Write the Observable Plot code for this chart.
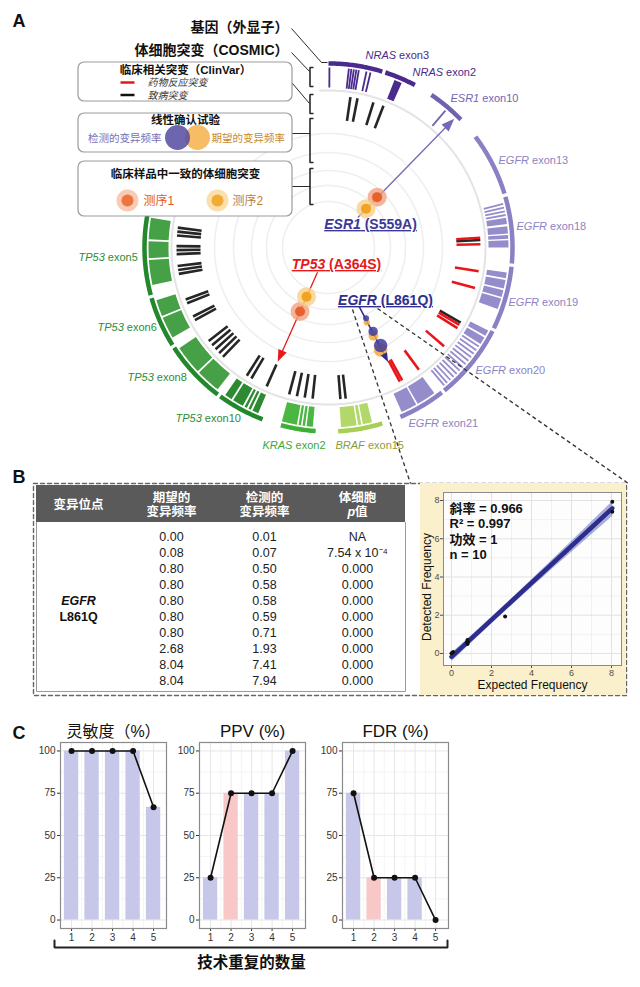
<!DOCTYPE html>
<html lang="zh">
<head>
<meta charset="utf-8">
<script src="https://cdn.jsdelivr.net/npm/d3@7"></script>
<script src="https://cdn.jsdelivr.net/npm/@observablehq/plot@0.6"></script>
<style>
html,body{margin:0;padding:0;background:#fff;}
#page{position:relative;width:640px;height:987px;overflow:hidden;font-family:'Liberation Sans','Noto Sans CJK SC',Arial,sans-serif;}
</style>
</head>
<body>
<div id="page"></div>
<script>
// ======================= DATA =======================
// Panel A – circos: exons (angle in degrees, clockwise from top)
const exonGene  = ["NRAS","NRAS","ESR1","EGFR","EGFR","EGFR","EGFR","EGFR","BRAF","KRAS","TP53","TP53","TP53","TP53"];
const exonName  = ["exon3","exon2","exon10","exon13","exon18","exon19","exon20","exon21","exon15","exon2","exon10","exon8","exon6","exon5"];
const exonStart = [0,18,34,53,74,96,117,142,163,184,201,217,238,255];
const exonEnd   = [17,28,46,73,95,116,141,157,177,195,216,237,254,281];

// COSMIC somatic mutations: dense blocks [gene, start, end] and single lines [gene, angle]
const cosmicBlocks = [
  ["NRAS",21.5,24],
  ["EGFR",80.5,82.5],["EGFR",83.2,85.5],["EGFR",86,87.2],["EGFR",87.7,90],
  ["EGFR",98,99.8],["EGFR",100.4,103.2],["EGFR",103.7,106],["EGFR",106.5,110],
  ["EGFR",117.5,119.4],["EGFR",120,122.4],
  ["EGFR",144,150.3],["EGFR",150.8,156],
  ["BRAF",166,169],["BRAF",169.5,170.5],["BRAF",171,176],
  ["KRAS",185,187],["KRAS",187.5,188.3],["KRAS",188.8,189.6],["KRAS",190.1,195],
  ["TP53",203,205],["TP53",205.6,206.4],["TP53",207,207.8],["TP53",208.4,212],["TP53",212.6,215],
  ["TP53",218,226],["TP53",226.6,236],
  ["TP53",240,247],["TP53",247.6,253],
  ["TP53",258,266],["TP53",266.6,272],["TP53",272.6,279.5]
];
const cosmicLines = [
  ["NRAS",0.3],["NRAS",6.5],["NRAS",7.3],["NRAS",8.1],["NRAS",8.9],["NRAS",9.7],["NRAS",12.2],["NRAS",13.5],
  ["ESR1",40.5],
  ["EGFR",76],["EGFR",77.2],["EGFR",78.4],["EGFR",79.6],
  ["EGFR",123.4],["EGFR",124.8],["EGFR",126.2],["EGFR",127.6],["EGFR",129],["EGFR",130.4],["EGFR",131.8],
  ["EGFR",133.2],["EGFR",134.6],["EGFR",136],["EGFR",137.4],["EGFR",138.8],["EGFR",140]
];

// ClinVar clinically relevant mutations (angles)
const clinvarPathogenic = [8.3,11,17.2,21.2, 87.2, 119.6, 173.5,175.5, 186,189,192,195,
  204,210.5,212.5, 224,226,228,230,232, 241.5,243,248.5,250,
  260,261.5,263,267.5,269,270.5,274.5,276,277.5];
const clinvarDrugResponse = [86.3, 88.8, 99, 105.5, 120.6, 122, 130.5, 143.5, 151, 152];

// Concordant somatic mutations in clinical samples
const concordantMutations = ["ESR1 (S559A)","TP53 (A364S)"];
const concordantAngle = [44, 204];
const sequencingRuns = ["测序1","测序2"];

// Linearity assay
const linearityMutation = "EGFR (L861Q)";
const linearityAngle = 152;
const linearityExpected = [0.08, 0.80, 8.04];
const linearityDetected = [0.07, 0.58, 7.41];

// Panel B – table and regression
const variantSite = ["EGFR","L861Q"];
const tableExpected = [0.00,0.08,0.80,0.80,0.80,0.80,0.80,2.68,8.04,8.04];
const tableDetected = [0.01,0.07,0.50,0.58,0.58,0.59,0.71,1.93,7.41,7.94];
const tablePValue   = ["NA","7.54 x 10⁻⁴","0.000","0.000","0.000","0.000","0.000","0.000","0.000","0.000"];
const tableHeaders  = ["变异位点","期望的\n变异频率","检测的\n变异频率","体细胞\np值"];
const regressionStats = ["斜率 = 0.966","R² = 0.997","功效 = 1","n = 10"];

// Panel C
const replicates  = [1,2,3,4,5];
const sensitivity = [100,100,100,100,66.7];
const ppv         = [25,75,75,75,100];
const fdr         = [75,25,25,25,0];
const panelTitles = ["灵敏度（%）","PPV (%)","FDR (%)"];
const highlightedReplicate = [null, 2, 2];

// ======================= HELPERS =======================
const FONT = "'Liberation Sans','Noto Sans CJK SC',Arial,sans-serif";
const NS = "http://www.w3.org/2000/svg";
const page = document.getElementById("page");
function place(el, left, top){ el.style.position="absolute"; el.style.left=left+"px"; el.style.top=top+"px"; page.appendChild(el); return el; }
function polish(svg){
  svg.querySelectorAll("text").forEach(t=>{
    const spans = t.querySelectorAll("tspan");
    if (spans.length){
      spans.forEach(s=>{
        if (s.textContent==="p值"){
          s.textContent="";
          const i=document.createElementNS(NS,"tspan"); i.setAttribute("font-style","italic"); i.textContent="p";
          s.appendChild(i); s.appendChild(document.createTextNode("值"));
        }
      });
      return;
    }
    const txt = t.textContent;
    const m = txt.match(/^(NRAS|ESR1|EGFR|BRAF|KRAS|TP53)( .+)$/);
    if (m){
      t.textContent="";
      const i=document.createElementNS(NS,"tspan"); i.setAttribute("font-style","italic"); i.textContent=m[1];
      t.appendChild(i); t.appendChild(document.createTextNode(m[2]));
    }
    if (/\([A-Z]\d+[A-Z]\)$/.test(txt)) t.style.textDecoration="underline";
  });
}

const CX=328, CY=247;
const toRad = d=>d*Math.PI/180;
const px=(a,r)=>CX+r*Math.sin(toRad(a));
const py=(a,r)=>CY-r*Math.cos(toRad(a));
function arcPts(a0,a1,r,step=0.5){
  const n=Math.max(2,Math.ceil(Math.abs(a1-a0)/step)+1);
  return d3.range(n).map(i=>{const a=a0+(a1-a0)*i/(n-1); return {x:px(a,r),y:py(a,r)};});
}
function sectorPts(a0,a1,r0,r1){ return [...arcPts(a0,a1,r1,0.25),...arcPts(a1,a0,r0,0.25)]; }
function headPts(a,rTip,len,w){
  const bx=px(a,rTip-len), by=py(a,rTip-len), ux=Math.cos(toRad(a)), uy=Math.sin(toRad(a));
  return [{x:px(a,rTip),y:py(a,rTip)},{x:bx+ux*w/2,y:by+uy*w/2},{x:bx-ux*w/2,y:by-uy*w/2}];
}

const ringColor  ={NRAS:"#4b2a8d",ESR1:"#6d63af",EGFR:"#8a80c4",BRAF:"#a7cf52",KRAS:"#3fae37",TP53:"#23882c"};
const cosmicColor={NRAS:"#4b2a8d",ESR1:"#6d63af",EGFR:"#958dcb",BRAF:"#b2d86a",KRAS:"#4ab743",TP53:"#46a046"};
const labelColor ={NRAS:"#4b2a8d",ESR1:"#6f66b2",EGFR:"#8c84c3",BRAF:"#8a9c3a",KRAS:"#3aa932",TP53:"#2d8c35"};
const labelPos = [[365,55],[412,72],[450,98],[498,160],[516,226],[508,302],[475,370],[408,423],[335,445],[262,445],[175,418],[127,377],[97,327],[78,257]];

const R_RING=184, COS0=160, COS1=180, CLV0=128, CLV1=152, SEP=157;

// ======================= BASE LAYER (panel A + frames) =======================
const marks = [];
// faint concentric tracks
marks.push(Plot.line([46,62,77,95,114].flatMap((r,k)=>arcPts(0,360,r,2).map(p=>({...p,k}))),
  {x:"x",y:"y",z:"k",stroke:"#efefef",strokeWidth:1.6}));
marks.push(Plot.line(arcPts(-3,290,SEP,1),{x:"x",y:"y",stroke:"#e4e4e4",strokeWidth:2}));
// gene / exon ring
marks.push(Plot.line(exonGene.flatMap((g,i)=>arcPts(exonStart[i],exonEnd[i],R_RING).map(p=>({...p,k:i,c:ringColor[g]}))),
  {x:"x",y:"y",z:"k",stroke:"c",strokeWidth:4.5,strokeLinecap:"butt",strokeLinejoin:"round"}));
// COSMIC track
marks.push(Plot.line(cosmicBlocks.flatMap(([g,a0,a1],k)=>sectorPts(a0,a1,COS0,COS1).map(p=>({...p,k,c:(g==="TP53"&&a1<=216)?"#2c8a32":cosmicColor[g]}))),
  {x:"x",y:"y",z:"k",fill:"c",stroke:"none"}));
marks.push(Plot.link(cosmicLines,{x1:d=>px(d[1],COS0),y1:d=>py(d[1],COS0),x2:d=>px(d[1],COS1),y2:d=>py(d[1],COS1),
  stroke:d=>cosmicColor[d[0]],strokeWidth:1.8,strokeLinecap:"butt"}));
// ClinVar track
const clinRows=[...clinvarPathogenic.map(a=>({a,c:"#262626"})),...clinvarDrugResponse.map(a=>({a,c:"#e8161b"}))];
marks.push(Plot.link(clinRows,{x1:d=>px(d.a,CLV0),y1:d=>py(d.a,CLV0),x2:d=>px(d.a,CLV1),y2:d=>py(d.a,CLV1),
  stroke:"c",strokeWidth:2.6,strokeLinecap:"butt"}));
// linearity assay points
const linR=[80,95,111];
const linRows=linearityExpected.map((e,i)=>({e,d:linearityDetected[i],rr:linR[i]}));
// arrows
const arrowDefs=[
  {a:concordantAngle[0]+0.3,r0:42,r1:180,c:"#7469b6",len:13,w:10,sw:1.3},
  {a:concordantAngle[1],r0:27,r1:125,c:"#e41a1c",len:12,w:9,sw:1.3},
  {a:linearityAngle+0.5,r0:66,r1:129,c:"#2c2b92",len:9,w:7,sw:1.5}
];
marks.push(Plot.link(arrowDefs,{x1:d=>px(d.a,d.r0),y1:d=>py(d.a,d.r0),x2:d=>px(d.a,d.r1-d.len+1),y2:d=>py(d.a,d.r1-d.len+1),stroke:"c",strokeWidth:d=>d.sw}));
marks.push(Plot.dot(linRows,{x:d=>px(linearityAngle+1,d.rr+4),y:d=>py(linearityAngle+1,d.rr+4),r:"e",fill:"#f4a93a",fillOpacity:0.85}));
marks.push(Plot.dot(linRows,{x:d=>px(linearityAngle,d.rr),y:d=>py(linearityAngle,d.rr),r:"d",fill:"#3f3c9c",fillOpacity:0.85}));
marks.push(Plot.line(arrowDefs.flatMap((d,k)=>headPts(d.a,d.r1,d.len,d.w).map(p=>({...p,k,c:d.c}))),{x:"x",y:"y",z:"k",fill:"c",stroke:"none"}));
// concordant points
const runR={"测序1":70,"测序2":54};
const concRows=concordantAngle.flatMap(a=>sequencingRuns.map(run=>({a,run})));
marks.push(Plot.dot(concRows,{x:d=>px(d.a,runR[d.run]),y:d=>py(d.a,runR[d.run]),r:9.5,fill:d=>d.run==="测序1"?"#f3a183":"#f8cf84",fillOpacity:0.8}));
marks.push(Plot.dot(concRows,{x:d=>px(d.a,runR[d.run]),y:d=>py(d.a,runR[d.run]),r:5,fill:d=>d.run==="测序1"?"#e8602c":"#f0a324"}));
// exon labels
marks.push(Plot.text(exonGene.map((g,i)=>({t:g+" "+exonName[i],x:labelPos[i][0],y:labelPos[i][1],c:labelColor[g]})),
  {x:"x",y:"y",text:"t",fill:"c",textAnchor:"start",fontSize:11}));
// mutation labels
const mutLabels=[
  {t:concordantMutations[0],x:370,y:224,c:"#3b3897"},
  {t:concordantMutations[1],x:336,y:264,c:"#e3191c"},
  {t:linearityMutation,x:385,y:300,c:"#2f2e8f"}
];
marks.push(Plot.text(mutLabels,{x:"x",y:"y",text:"t",fill:"c",fontWeight:"bold",fontSize:14}));

// legend boxes
const boxes=[{x1:78,x2:292,y1:62,y2:101},{x1:78,x2:292,y1:113,y2:152},{x1:78,x2:292,y1:161,y2:216}];
marks.push(Plot.rect(boxes,{x1:"x1",x2:"x2",y1:"y1",y2:"y2",rx:6,fill:"white",stroke:"#9c9c9c",strokeWidth:1.2}));
marks.push(Plot.text([
  {t:"临床相关突变（ClinVar）",x:185,y:69.5},{t:"线性确认试验",x:185,y:120},{t:"临床样品中一致的体细胞突变",x:185,y:174}],
  {x:"x",y:"y",text:"t",fontWeight:"bold",fontSize:11.5,fill:"#111"}));
marks.push(Plot.link([{y:82,c:"#e8161b"},{y:94.5,c:"#111"}],{x1:120,x2:134,y1:"y",y2:"y",stroke:"c",strokeWidth:2.5}));
marks.push(Plot.text([{t:"药物反应突变",y:82.5},{t:"致病突变",y:95}],{x:147,y:"y",text:"t",textAnchor:"start",fontStyle:"italic",fontSize:10,fill:"#333"}));
marks.push(Plot.dot([{x:197,y:137}],{x:"x",y:"y",r:12.5,fill:"#f4b24a",fillOpacity:0.85}));
marks.push(Plot.dot([{x:177,y:137}],{x:"x",y:"y",r:12.5,fill:"#534a9f",fillOpacity:0.85}));
marks.push(Plot.text(["检测的变异频率"],{x:161,y:138,text:d=>d,textAnchor:"end",fill:"#7a70b6",fontSize:10.5}));
marks.push(Plot.text(["期望的变异频率"],{x:211,y:138,text:d=>d,textAnchor:"start",fill:"#c98a2e",fontSize:10.5}));
marks.push(Plot.dot([{x:127,c:"#f8cbb5"},{x:217,c:"#fbdfac"}],{x:"x",y:200,r:11,fill:"c"}));
marks.push(Plot.dot([{x:127,c:"#ec7540"},{x:217,c:"#f2ab36"}],{x:"x",y:200,r:6,fill:"c"}));
marks.push(Plot.text([{t:sequencingRuns[0],x:143,c:"#e2572b"},{t:sequencingRuns[1],x:232,c:"#bf8230"}],
  {x:"x",y:201,text:"t",textAnchor:"start",fill:"c",fontSize:12}));
// leader lines & brackets
const leaders=[
  [[291,28],[321,62],[327,62]],
  [[291,52],[309,71]],
  [[292,83],[309,103]],
  [[292,133],[310,133]],
  [[292,186],[310,186]],
  [[313,67],[309.5,67],[309.5,86],[313,86]],
  [[313,94],[309.5,94],[309.5,113],[313,113]],
  [[313,118],[309.5,118],[309.5,162],[313,162]],
  [[313,168],[309.5,168],[309.5,204],[313,204]]
];
marks.push(Plot.line(leaders.slice(0,5).flatMap((pts,k)=>pts.map(([x,y])=>({x,y,k}))),{x:"x",y:"y",z:"k",stroke:"#2a2a2a",strokeWidth:1,strokeLinejoin:"miter",strokeLinecap:"butt"}));
marks.push(Plot.line(leaders.slice(5).flatMap((pts,k)=>pts.map(([x,y])=>({x,y,k}))),{x:"x",y:"y",z:"k",stroke:"#2a2a2a",strokeWidth:1.6,strokeLinejoin:"miter",strokeLinecap:"butt"}));
marks.push(Plot.text([{t:"基因（外显子）",y:27},{t:"体细胞突变（COSMIC）",y:50}],{x:288,y:"y",text:"t",textAnchor:"end",fontWeight:"bold",fontSize:14,fill:"#111"}));
// panel letters
marks.push(Plot.text([{t:"A",y:21},{t:"B",y:477},{t:"C",y:733}],{x:12,y:"y",text:"t",textAnchor:"start",fontWeight:"bold",fontSize:18,fill:"#111"}));
// panel B frame, zoom lines, table header/borders
marks.push(Plot.line([[33,483],[626,483],[626,695],[33,695],[33,483]].map(([x,y])=>({x,y})),{x:"x",y:"y",stroke:"#666",strokeWidth:1.4,strokeDasharray:"4,3"}));
marks.push(Plot.link([{x1:352,y1:309,x2:410,y2:483},{x1:377,y1:308,x2:628,y2:483}],{x1:"x1",y1:"y1",x2:"x2",y2:"y2",stroke:"#333",strokeWidth:1.3,strokeDasharray:"4,3"}));
marks.push(Plot.rect([{x1:36,x2:405,y1:485,y2:522}],{x1:"x1",x2:"x2",y1:"y1",y2:"y2",fill:"#5a5a5a"}));
marks.push(Plot.line([[36,522],[36,691],[405,691],[405,522]].map(([x,y])=>({x,y})),{x:"x",y:"y",stroke:"#9a9a9a",strokeWidth:1}));
// panel C bracket
marks.push(Plot.line([[54,940],[54,947],[447,947],[447,940]].map(([x,y])=>({x,y})),{x:"x",y:"y",stroke:"#222",strokeWidth:2,strokeLinejoin:"miter"}));
marks.push(Plot.text(["技术重复的数量"],{x:251,y:963,text:d=>d,fontWeight:"bold",fontSize:15.5,fill:"#111"}));

const base = Plot.plot({
  width:640, height:987, margin:0,
  x:{domain:[0,640],range:[0,640],axis:null},
  y:{domain:[0,987],range:[0,987],axis:null},
  color:{type:"identity"},
  r:{type:"log",domain:[0.07,8.04],range:[3,6.8]},
  style:{fontFamily:FONT,background:"transparent",overflow:"visible"},
  marks
});
polish(base);
place(base,0,0);

// ======================= PANEL B TABLE =======================
const cols=["site","exp","det","p"];
const tableRows=tableExpected.map((e,i)=>({i,exp:e.toFixed(2),det:tableDetected[i].toFixed(2),p:tablePValue[i]}));
const table = Plot.plot({
  width:369, height:210, margin:0,
  x:{type:"point",domain:cols,range:[41,321],padding:0,axis:null},
  y:{type:"point",domain:d3.range(tableExpected.length),range:[47,198],padding:0,axis:null},
  style:{fontFamily:FONT,background:"transparent"},
  marks:[
    Plot.text(tableHeaders.map((t,k)=>({t,col:cols[k]})),{x:"col",text:"t",frameAnchor:"top",dy:19,lineAnchor:"middle",fill:"white",fontWeight:"bold",fontSize:12.5,lineHeight:1.1}),
    Plot.text(tableRows,{x:()=>"exp",y:"i",text:"exp",fontSize:12.5,fill:"#222"}),
    Plot.text(tableRows,{x:()=>"det",y:"i",text:"det",fontSize:12.5,fill:"#222"}),
    Plot.text(tableRows,{x:()=>"p",y:"i",text:"p",fontSize:12.5,fill:"#222"}),
    Plot.text([variantSite[0]],{x:()=>"site",y:()=>4,text:d=>d,fontStyle:"italic",fontWeight:"bold",fontSize:12.5,fill:"#111"}),
    Plot.text([variantSite[1]],{x:()=>"site",y:()=>5,text:d=>d,fontWeight:"bold",fontSize:12.5,fill:"#111"})
  ]
});
polish(table);
place(table,36,485);

// ======================= PANEL B SCATTER =======================
const pts=tableExpected.map((e,i)=>({e,d:tableDetected[i]}));
const scatter = Plot.plot({
  width:206, height:212, marginLeft:23, marginRight:5, marginTop:9, marginBottom:30,
  style:{fontFamily:FONT,background:"#fbf0cc",fontSize:"9px",color:"#4d4d4d"},
  x:{domain:[-0.4,8.5],ticks:[0,2,4,6,8],tickSize:3,tickPadding:1,label:null},
  y:{domain:[-0.63,8.42],ticks:[0,2,4,6,8],tickSize:3,tickPadding:1,label:null},
  marks:[
    Plot.frame({fill:"#fdfdfd"}),
    Plot.ruleX([1,3,5,7],{stroke:"#f1f1f1"}),
    Plot.ruleY([1,3,5,7],{stroke:"#f1f1f1"}),
    Plot.ruleX([0,2,4,6,8],{stroke:"#e2e2e2"}),
    Plot.ruleY([0,2,4,6,8],{stroke:"#e2e2e2"}),
    Plot.linearRegressionY(pts,{x:"e",y:"d",stroke:"#2b2e8e",strokeWidth:4.5,fill:"#4a4fa8",fillOpacity:0.45}),
    Plot.dot(pts,{x:"e",y:"d",fill:"#111",r:2}),
    Plot.frame({stroke:"#8a8a8a"}),
    Plot.text([regressionStats.join("\n")],{text:d=>d,frameAnchor:"top-left",dx:6,dy:9,lineAnchor:"top",textAnchor:"start",fontSize:13,fontWeight:"bold",lineHeight:1.2,fill:"#111"}),
    Plot.text(["Expected Frequency"],{text:d=>d,frameAnchor:"bottom",dy:20,lineAnchor:"middle",fontSize:12,fill:"#111"}),
    Plot.text(["Detected Frequency"],{text:d=>d,frameAnchor:"left",dx:-16,dy:8,rotate:-90,textAnchor:"middle",lineAnchor:"middle",fontSize:12,fill:"#111"})
  ]
});
polish(scatter);
place(scatter,420,483);

// ======================= PANEL C =======================
function panelC(k, values, left){
  const data=replicates.map((r,i)=>({rep:r,v:values[i],hl:r===highlightedReplicate[k]?"hl":"base"}));
  const p = Plot.plot({
    width:140, height:238, marginLeft:30, marginRight:4, marginTop:30, marginBottom:22,
    style:{fontFamily:FONT,background:"transparent",fontSize:"10px",color:"#333"},
    x:{domain:[0.46,5.63],ticks:replicates,tickSize:3,tickPadding:2,label:null,tickFormat:d=>String(d)},
    y:{domain:[-5,105],ticks:[0,25,50,75,100],tickSize:3,tickPadding:2,label:null},
    color:{domain:["base","hl"],range:["#c6c7e9","#f8c8c8"]},
    marks:[
      Plot.frame({fill:"white"}),
      Plot.ruleY([12.5,37.5,62.5,87.5],{stroke:"#f4f4f4"}),
      Plot.ruleX([1.5,2.5,3.5,4.5],{stroke:"#f4f4f4"}),
      Plot.ruleY([0,25,50,75,100],{stroke:"#e6e6e6"}),
      Plot.ruleX(replicates,{stroke:"#e6e6e6"}),
      Plot.rect(data,{x1:d=>d.rep-0.35,x2:d=>d.rep+0.35,y1:0,y2:"v",fill:"hl"}),
      Plot.line(data,{x:"rep",y:"v",stroke:"#111",strokeWidth:1.6}),
      Plot.dot(data,{x:"rep",y:"v",fill:"#111",r:3}),
      Plot.frame({stroke:"#8a8a8a",strokeWidth:1.2}),
      Plot.text([panelTitles[k]],{text:d=>d,frameAnchor:"top",dy:-11,lineAnchor:"middle",fontSize:k===0?16:17,fill:"#111"})
    ]
  });
  place(p,left,712);
}
panelC(0,sensitivity,30);
panelC(1,ppv,169);
panelC(2,fdr,312);
</script>
</body>
</html>
